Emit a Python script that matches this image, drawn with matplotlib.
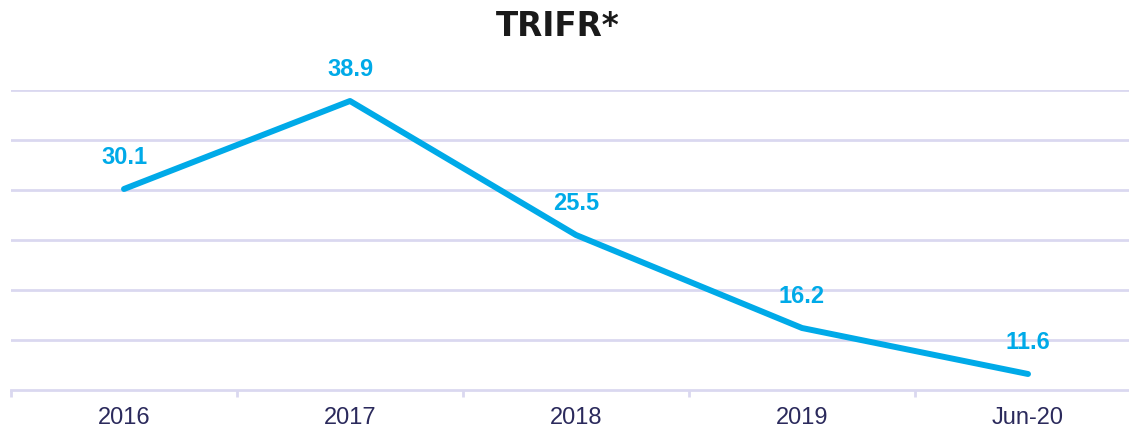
import matplotlib.pyplot as plt

categories = ["2016", "2017", "2018", "2019", "Jun-20"]
trifr = [30.1, 38.9, 25.5, 16.2, 11.6]

LINE = "#00AAE8"
GRID = "#DAD8F0"
TEXT = "#2B2A5C"

W, H = 1129, 429
fig = plt.figure(figsize=(W / 100, H / 100), dpi=100)
# axes spans from x=11px to 1141px (last category slightly cut off), y from 390px to 90px
ax = fig.add_axes([11 / W, (H - 390) / H, 1130 / W, 300 / H])

x = range(len(categories))
ax.plot(x, trifr, color=LINE, linewidth=4.3, solid_capstyle="round", zorder=3)
for xi, v in zip(x, trifr):
    ax.annotate(f"{v:.1f}", (xi, v), textcoords="offset points", xytext=(0, 23),
                ha="center", va="center", fontsize=17, fontweight="bold",
                color=LINE, family="Liberation Sans")

ax.set_xlim(-0.5, 4.5)
ax.set_ylim(10, 40)
ax.set_yticks([15, 20, 25, 30, 35, 40])
ax.yaxis.grid(True, color=GRID, linewidth=2)
ax.tick_params(axis="y", left=False, labelleft=False)

ax.set_xticks(list(x))
ax.set_xticklabels(categories, fontsize=17, color=TEXT, family="Liberation Sans")
ax.set_xticks([i - 0.5 for i in range(len(categories) + 1)], minor=True)
ax.tick_params(axis="x", which="major", length=0, pad=12)
ax.tick_params(axis="x", which="minor", length=5, width=2, color=GRID)

for side in ["top", "right", "left"]:
    ax.spines[side].set_visible(False)
ax.spines["bottom"].set_color(GRID)
ax.spines["bottom"].set_linewidth(2)

fig.text(558 / W, (H - 26) / H, "TRIFR*", ha="center", va="center",
         fontsize=23.5, fontweight="heavy", color="#1A1A1A", family="DejaVu Sans")

fig.savefig("out.png", dpi=100)
